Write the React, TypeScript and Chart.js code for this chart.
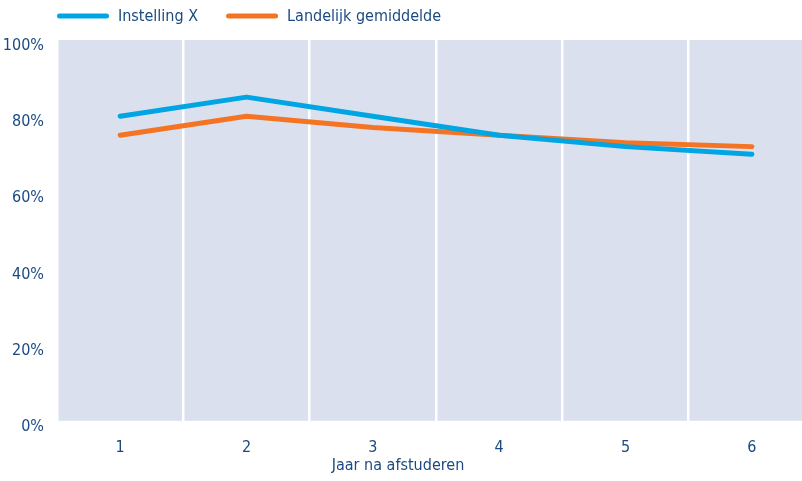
import React, { useEffect, useRef } from "react";
import { Chart, registerables } from "chart.js";

Chart.register(...registerables);

const categories = ["1", "2", "3", "4", "5", "6"];
const seriesNames = ["Instelling X", "Landelijk gemiddelde"];
const instellingX = [80, 85, 80, 75, 72, 70];
const landelijk = [75, 80, 77, 75, 73, 72];
const yTicks = [0, 20, 40, 60, 80, 100];
const xTitle = "Jaar na afstuderen";

const BLUE = "#00a5e3";
const ORANGE = "#f47423";
const TEXT = "#1a4a80";
const PLOT_BG = "#dae0ed";
const FONT = "'Liberation Sans Narrow', 'DejaVu Sans Condensed', 'Roboto', sans-serif";
const FONT_SIZE = 16;

const plotBgPlugin = {
  id: "plotBg",
  beforeDraw(chart: any) {
    const { ctx, chartArea } = chart;
    ctx.save();
    ctx.fillStyle = PLOT_BG;
    ctx.fillRect(chartArea.left, chartArea.top, chartArea.right - chartArea.left, chartArea.bottom - chartArea.top);
    ctx.restore();
  },
};

const legendPlugin = {
  id: "lineLegend",
  afterDraw(chart: any) {
    const { ctx } = chart;
    ctx.save();
    ctx.font = `${FONT_SIZE}px ${FONT}`;
    ctx.textBaseline = "middle";
    ctx.textAlign = "left";
    let x = 57;
    const y = 16;
    chart.data.datasets.forEach((ds: any) => {
      ctx.strokeStyle = ds.borderColor;
      ctx.lineWidth = 5;
      ctx.lineCap = "round";
      ctx.beginPath();
      ctx.moveTo(x + 2.5, y);
      ctx.lineTo(x + 52 - 2.5, y);
      ctx.stroke();
      x += 61;
      ctx.fillStyle = TEXT;
      ctx.fillText(ds.label, x, y + 1);
      x += ctx.measureText(ds.label).width + 28;
    });
    ctx.restore();
  },
};

const xTitlePlugin = {
  id: "xTitle",
  afterDraw(chart: any) {
    const { ctx } = chart;
    ctx.save();
    ctx.font = `${FONT_SIZE}px ${FONT}`;
    ctx.fillStyle = TEXT;
    ctx.textAlign = "center";
    ctx.textBaseline = "middle";
    ctx.fillText(xTitle, 398, 466);
    ctx.restore();
  },
};

export default function App() {
  const canvasRef = useRef<HTMLCanvasElement | null>(null);

  useEffect(() => {
    if (!canvasRef.current) return;
    const chart = new Chart(canvasRef.current, {
      type: "line",
      data: {
        labels: categories,
        datasets: [
          {
            label: seriesNames[0],
            data: instellingX,
            borderColor: BLUE,
            backgroundColor: BLUE,
            borderWidth: 5,
            borderCapStyle: "round",
            borderJoinStyle: "round",
            pointRadius: 0,
            tension: 0,
          },
          {
            label: seriesNames[1],
            data: landelijk,
            borderColor: ORANGE,
            backgroundColor: ORANGE,
            borderWidth: 5,
            borderCapStyle: "round",
            borderJoinStyle: "round",
            pointRadius: 0,
            tension: 0,
          },
        ],
      },
      options: {
        animation: false,
        responsive: true,
        maintainAspectRatio: false,
        layout: { padding: { top: 40, left: 0, right: 0, bottom: 7 } },
        plugins: {
          legend: { display: false },
          tooltip: { enabled: false },
        },
        scales: {
          x: {
            offset: true,
            grid: {
              offset: true,
              color: "#ffffff",
              lineWidth: 2.5,
              drawTicks: false,
            },
            border: { display: false },
            ticks: {
              color: TEXT,
              padding: 17,
              font: { family: FONT, size: FONT_SIZE },
            },
          },
          y: {
            min: 0,
            max: 100,
            afterFit(scale: any) {
              scale.width = 57;
            },
            afterBuildTicks(scale: any) {
              scale.ticks = yTicks.map((v) => ({ value: v }));
            },
            grid: { display: false, drawTicks: false },
            border: { display: false },
            ticks: {
              color: TEXT,
              padding: 13,
              labelOffset: 6,
              font: { family: FONT, size: FONT_SIZE },
              callback: (v: any) => `${v}%`,
            },
          },
        },
      },
      plugins: [plotBgPlugin, legendPlugin, xTitlePlugin],
    } as any);
    return () => chart.destroy();
  }, []);

  return (
    <div style={{ position: "fixed", left: 0, top: 0, width: 802, height: 481, overflow: "hidden", background: "#ffffff" }}>
      <div style={{ position: "relative", width: 815, height: 481 }}>
        <canvas ref={canvasRef} />
      </div>
    </div>
  );
}
